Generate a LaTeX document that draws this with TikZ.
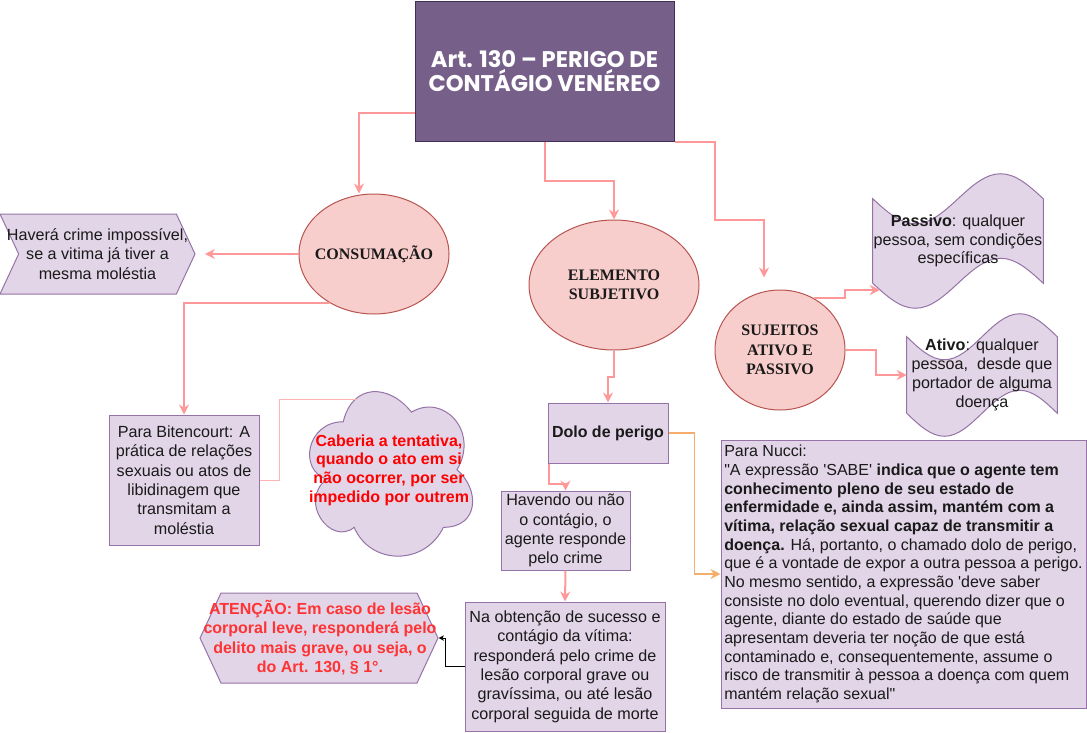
\documentclass[tikz,border=0pt]{standalone}
\usepackage{fontspec}
\setmainfont{Liberation Sans}[Ligatures=TeXOff]
\newfontfamily\serifbf{Liberation Serif}
\newfontfamily\titlefont{Poppins}
\usetikzlibrary{shapes.geometric,shapes.symbols,arrows.meta,calc,backgrounds}
\definecolor{titlefill}{HTML}{76608A}
\definecolor{titledraw}{HTML}{432D57}
\definecolor{elfill}{HTML}{F8CECC}
\definecolor{eldraw}{HTML}{B85450}
\definecolor{boxfill}{HTML}{E1D5E7}
\definecolor{boxdraw}{HTML}{9673A6}
\definecolor{connc}{HTML}{FF9999}
\definecolor{thinc}{HTML}{FFB3B3}
\definecolor{orangec}{HTML}{F5AE6C}
\definecolor{redA}{HTML}{FF0000}
\definecolor{redB}{HTML}{FF3333}
\definecolor{txt}{HTML}{1A1A1A}
\def\pxu{0.75pt}
\newcommand\tapeoutline[2]{%
  \path[boxst] (#1.north west)
    sin ($(#1.north west)!0.25!(#1.north east)+(0,#2)$)
    cos ($(#1.north west)!0.5!(#1.north east)$)
    sin ($(#1.north west)!0.75!(#1.north east)+(0,-#2)$)
    cos (#1.north east)
    -- (#1.south east)
    sin ($(#1.south west)!0.75!(#1.south east)+(0,-#2)$)
    cos ($(#1.south west)!0.5!(#1.south east)$)
    sin ($(#1.south west)!0.25!(#1.south east)+(0,#2)$)
    cos (#1.south west)
    -- cycle;}
\tikzset{
  every node/.style={text=txt},
  body/.style={font=\fontsize{12.1}{14.5}\selectfont, align=center},
  boldbody/.style={font=\bfseries\fontsize{12}{14.5}\selectfont, align=center},
  boxst/.style={draw=boxdraw, fill=boxfill, line width=0.75pt},
  rectbox/.style={boxst, rectangle, body, inner sep=0pt},
  ellfont/.style={font=\serifbf\bfseries\fontsize{12}{14.5}\selectfont, align=center},
  ellst/.style={ellipse, draw=eldraw, fill=elfill, line width=0.75pt, inner sep=0pt, ellfont},
  conn/.style={draw=connc, line width=1.5pt, -{Stealth[length=7.5pt,width=7.5pt,inset=2.5pt]}},
  orangeconn/.style={draw=orangec, line width=1.2pt, -{Stealth[length=7.5pt,width=7.5pt,inset=2.5pt]}},
  thinconn/.style={draw=thinc, line width=0.75pt},
  blackconn/.style={draw=black, line width=0.75pt, -{Stealth[length=4pt,width=4pt,inset=1pt]}},
}
\begin{document}
\begin{tikzpicture}[x=0.75pt, y=-0.75pt]
\useasboundingbox (0,0) rectangle (1087,732);

% title
\node[rectangle, draw=titledraw, fill=titlefill, line width=0.75pt,
  minimum width=259*\pxu, minimum height=140*\pxu, text=white,
  font=\titlefont\bfseries\fontsize{17}{17.5}\selectfont, align=center]
  (title) at (544.5,71) {Art. 130 – PERIGO DE\\CONTÁGIO VENÉREO};

% ellipses
\node[ellst, minimum width=150*\pxu, minimum height=120*\pxu,
  label={[ellfont]center:CONSUMAÇÃO}] (cons) at (374,254) {};
\node[ellst, minimum width=170*\pxu, minimum height=130*\pxu] (elem) at (614,285) {ELEMENTO\\SUBJETIVO};
\node[ellst, minimum width=130*\pxu, minimum height=120*\pxu] (suj) at (780,350) {SUJEITOS\\ATIVO E\\PASSIVO};

% chevron
\node[boxst, signal, signal to=east, signal from=west, signal pointer angle=130,
  minimum width=195*\pxu, minimum height=80*\pxu, inner sep=0pt] (hav) at (97.5,254) {};
\node[body] (havtxt) at (hav.center) {Haverá crime impossível,\\se a vitima já tiver a\\mesma moléstia};

% boxes
\node[rectbox, minimum width=150*\pxu, minimum height=130*\pxu] (bit) at (184,480)
  {Para Bitencourt: A\\prática de relações\\sexuais ou atos de\\libidinagem que\\transmitam a\\moléstia};
\node[rectbox, boldbody, minimum width=120*\pxu, minimum height=60*\pxu] (dolo) at (608,433) {Dolo de perigo};
\node[rectbox, minimum width=129*\pxu, minimum height=79*\pxu] (havendo) at (565.5,530.5)
  {Havendo ou não\\o contágio, o\\agente responde\\pelo crime};
\node[rectbox, minimum width=200*\pxu, minimum height=129*\pxu] (naob) at (565,666.5)
  {Na obtenção de sucesso e\\contágio da vítima:\\responderá pelo crime de\\lesão corporal grave ou\\gravíssima, ou até lesão\\corporal seguida de morte};

% Nucci
\node[boxst, rectangle, inner xsep=1.5*\pxu, inner ysep=0pt, minimum width=365*\pxu,
  minimum height=268*\pxu, align=left, font=\fontsize{12}{14}\selectfont] (nucci) at (903.5,574)
  {Para Nucci:\\
"A expressão 'SABE' \textbf{indica que o agente tem}\\
\textbf{conhecimento pleno de seu estado de}\\
\textbf{enfermidade e, ainda assim, mantém com a}\\
\textbf{vítima, relação sexual capaz de transmitir a}\\
\textbf{doença.} Há, portanto, o chamado dolo de perigo,\\
que é a vontade de expor a outra pessoa a perigo.\\
No mesmo sentido, a expressão 'deve saber\\
consiste no dolo eventual, querendo dizer que o\\
agente, diante do estado de saúde que\\
apresentam deveria ter noção de que está\\
contaminado e, consequentemente, assume o\\
risco de transmitir à pessoa a doença com quem\\
mantém relação sexual"};

% hexagon
\node[boxst, signal, signal to=east and west, signal pointer angle=130,
  minimum width=238*\pxu, minimum height=90*\pxu, inner sep=0pt] (aten) at (319,638) {};
\node[boldbody, text=redB] (atentxt) at (320,637.5)
  {ATENÇÃO: Em caso de lesão\\corporal leve, responderá pelo\\delito mais grave, ou seja, o\\do Art. 130, § 1°.};

% cloud (draw.io cloud outline, bounding box 182 x 192)
\node[rectangle, inner sep=0pt, minimum width=182*\pxu, minimum height=192*\pxu,
  boldbody, font=\bfseries\fontsize{12}{14}\selectfont, text=redA] (cloud) at (389,470)
  {Caberia a tentativa,\\quando o ato em si\\não ocorrer, por ser\\impedido por outrem};
\begin{scope}[on background layer, shift={(cloud.north west)}, x=136.5pt, y=-144pt]
  \path[boxst] (0.25,0.25) .. controls (0.05,0.25) and (0,0.5) .. (0.16,0.55)
    .. controls (0,0.66) and (0.18,0.9) .. (0.31,0.8)
    .. controls (0.4,1) and (0.7,1) .. (0.8,0.8)
    .. controls (1,0.8) and (1,0.6) .. (0.875,0.5)
    .. controls (1,0.3) and (0.8,0.1) .. (0.625,0.2)
    .. controls (0.5,0.05) and (0.3,0.05) .. (0.25,0.25) -- cycle;
\end{scope}

% tapes
\node[rectangle, inner sep=0pt, minimum width=170*\pxu, minimum height=84*\pxu, body,
  font=\fontsize{12.1}{13.7}\selectfont] (passivo) at (958,241)
  {\textbf{Passivo}: qualquer\\pessoa, sem condições\\específicas};
\node[rectangle, inner sep=0pt, minimum width=150*\pxu, minimum height=76*\pxu, body,
  font=\fontsize{12.1}{14.3}\selectfont] (ativo) at (982,375)
  {\textbf{Ativo}: qualquer\\pessoa,\ \ desde que\\portador de alguma\\doença};
\begin{scope}[on background layer]
  \tapeoutline{passivo}{25}
  \tapeoutline{ativo}{23}
\end{scope}

% connectors
\draw[conn] (title.west |- 0,113) -| (cons.north -| 359,0);
\draw[conn] (title.south) -- ++(0,39) -| (elem.north);
\draw[conn, shorten >=9pt] (title.south east) -- ++(40,0) |- (740,220) -| (suj.north -| 764,0);
\draw[conn, shorten >=7pt] (cons.west) -- (hav.east);
\draw[conn] (cons.228) -| (bit.north);
\draw[thinconn] (bit.east) -- ++(20,0) |- ($(cloud.north west)+(59,26)$);
\draw[conn] (elem.south) -- ++(0,26) -| (dolo.north);
\draw[conn] ($(dolo.south west)+(1,0)$) -- ++(0,20) -| (havendo.north);
\draw[conn] (havendo.south) -- (naob.north);
\draw[blackconn] (naob.west) -- ++(-19,0) |- (aten.east);
\draw[orangeconn] (dolo.east) -- ++(26,0) |- (nucci.west);
\draw[conn] (suj.57) -- ++(31,0) |- ($(passivo.west |- 0,290)+(7,0)$);
\draw[conn] (suj.east) -- ++(30,0) |- (ativo.west);
\end{tikzpicture}
\end{document}
